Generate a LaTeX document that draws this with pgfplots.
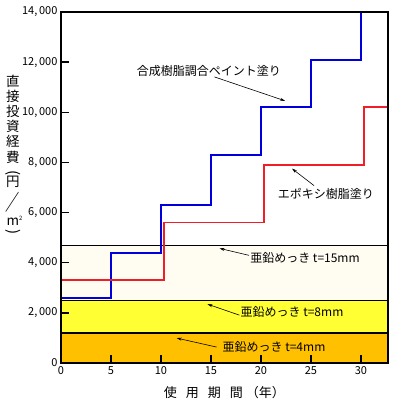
\documentclass[border=0pt]{standalone}
\usepackage{fontspec}
\setmainfont{Noto Sans CJK JP}
\usepackage{graphicx}
\usepackage{pgfplots}
\pgfplotsset{compat=1.18}
\usetikzlibrary{arrows.meta}

\definecolor{band4}{RGB}{255,192,0}
\definecolor{band8}{RGB}{255,255,51}
\definecolor{band15}{RGB}{255,253,242}
\definecolor{paintblue}{RGB}{0,0,220}
\definecolor{epoxyred}{RGB}{240,30,40}

\begin{document}
\begin{tikzpicture}
\begin{axis}[
    scale only axis, width=327pt, height=351pt,
    xmin=0, xmax=32.7, ymin=0, ymax=14000,
    axis on top, clip=false,
    axis line style={line width=1.6pt},
    xtick={0,5,...,30}, ytick={0,2000,...,14000},
    xtick pos=bottom, ytick pos=left, tick align=inside,
    major tick length=8pt,
    tick style={line width=1.5pt, black},
    scaled y ticks=false,
    /pgf/number format/assume math mode=true,
    /pgf/number format/1000 sep={,\,},
    ticklabel style={font=\fontsize{11}{12}\selectfont},
    xlabel={使\hspace{9pt}用\hspace{9pt}期\hspace{9pt}間\hspace{3pt}（年）},
    xlabel style={font=\fontsize{13}{14}\selectfont, at={(axis description cs:0.5,-0.085)}, anchor=center},
]
% zinc plating bands
\addplot[fill=band4, draw=none] coordinates {(0,0) (32.7,0) (32.7,1200) (0,1200)} --cycle;
\addplot[fill=band8, draw=none] coordinates {(0,1200) (32.7,1200) (32.7,2500) (0,2500)} --cycle;
\addplot[fill=band15, draw=none] coordinates {(0,2500) (32.7,2500) (32.7,4700) (0,4700)} --cycle;
\addplot[black, line width=1.3pt] coordinates {(0,1200) (32.7,1200)};
\addplot[black, line width=1.3pt] coordinates {(0,2500) (32.7,2500)};
\addplot[black, line width=1.3pt] coordinates {(0,4700) (32.7,4700)};

% synthetic resin paint
\addplot[paintblue, line width=2pt, const plot] coordinates {
    (0,2600) (5,4400) (10,6300) (15,8300) (20,10200) (25,12100) (30,14000)
};
% epoxy resin paint
\addplot[epoxyred, line width=1.6pt, const plot] coordinates {
    (0,3300) (10.3,5600) (20.3,7900) (30.3,10200) (32.7,10200)
};

\begin{scope}[font=\fontsize{12}{13}\selectfont]
\node at (axis cs:14.8,11650) {合成樹脂調合ペイント塗り};
\draw[-{Stealth[length=5pt,width=3pt]}, line width=0.6pt] (axis cs:15.35,11410) -- (axis cs:22.4,10457);
\node at (axis cs:26.5,6760) {エポキシ樹脂塗り};
\draw[-{Stealth[length=5pt,width=3pt]}, line width=0.6pt] (axis cs:25.3,7077) -- (axis cs:23.1,7753);
\node at (axis cs:24.4,4175) {亜鉛めっき t=15mm};
\draw[-{Stealth[length=5pt,width=3pt]}, line width=0.6pt] (axis cs:18.8,4294) -- (axis cs:15.85,4572);
\node at (axis cs:23.1,2028) {亜鉛めっき t=8mm};
\draw[-{Stealth[length=5pt,width=3pt]}, line width=0.6pt] (axis cs:17.85,1908) -- (axis cs:14.65,2346);
\node at (axis cs:21.3,636) {亜鉛めっき t=4mm};
\draw[-{Stealth[length=5pt,width=3pt]}, line width=0.6pt] (axis cs:15.55,636) -- (axis cs:11.57,994);
\end{scope}
\end{axis}

% vertical y label, one glyph per node (y given as pixels from the top)
\foreach \c/\py in {直/81.5, 接/96.5, 投/111.5, 資/126.5, 経/141.5, 費/157,
    円/182,
    {\scalebox{1.05}[1.6]{／}}/202,
    {m\rlap{\raisebox{5pt}{\fontsize{6}{6}\selectfont 2}}}/221}
  \node[inner sep=0, anchor=center, font=\fontsize{13.5}{14}\selectfont]
    at ([shift={(-48pt,{(363-\py)*1pt})}]current axis.south west) {\c};
\node[inner sep=0, anchor=center, rotate=-90, font=\fontsize{15}{15}\selectfont]
  at ([shift={(-48pt,190pt)}]current axis.south west) {(};
\node[inner sep=0, anchor=center, rotate=-90, font=\fontsize{15}{15}\selectfont]
  at ([shift={(-48pt,130.5pt)}]current axis.south west) {)};

\path[use as bounding box] ([xshift=-61pt,yshift=-45pt]current axis.south west) rectangle ([xshift=12pt,yshift=12pt]current axis.north east);
\end{tikzpicture}
\end{document}
